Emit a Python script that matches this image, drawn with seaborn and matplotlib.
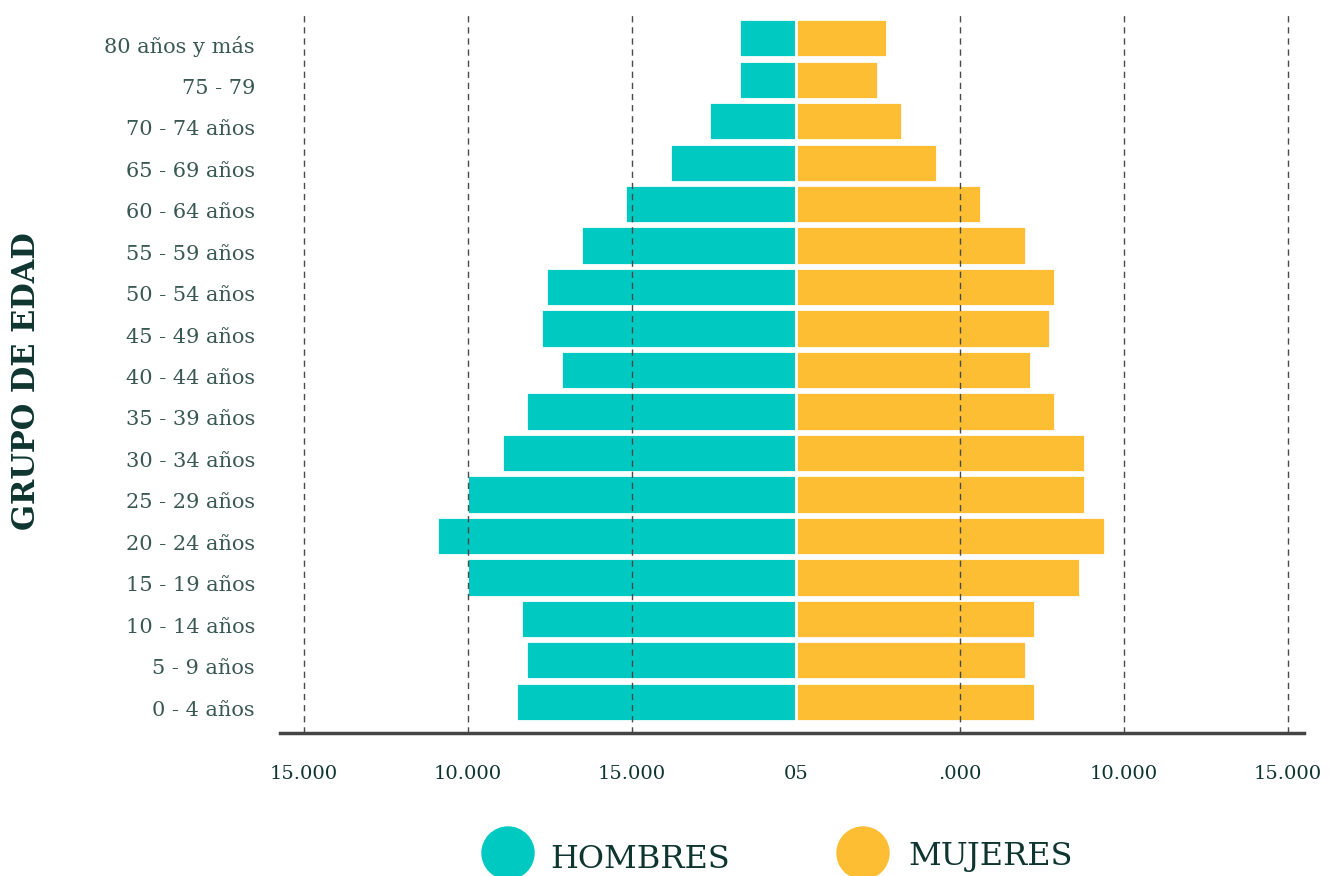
import matplotlib
matplotlib.use("Agg")
import matplotlib.pyplot as plt
import matplotlib.transforms as mtransforms
from matplotlib.patches import Ellipse
import seaborn as sns
import pandas as pd

# ---- data ----
grupos = ["80 años y más", "75 - 79", "70 - 74 años", "65 - 69 años", "60 - 64 años",
          "55 - 59 años", "50 - 54 años", "45 - 49 años", "40 - 44 años", "35 - 39 años",
          "30 - 34 años", "25 - 29 años", "20 - 24 años", "15 - 19 años", "10 - 14 años",
          "5 - 9 años", "0 - 4 años"]
hombres = [1740, 1740, 2650, 3840, 5210, 6550, 7620, 7770, 7160, 8230,
           8960, 10030, 10950, 10030, 8380, 8230, 8540]
mujeres = [2770, 2500, 3230, 4300, 5640, 7010, 7900, 7740, 7160, 7900,
           8810, 8810, 9420, 8660, 7290, 7010, 7290]
xticks = [-15000, -10000, -5000, 0, 5000, 10000, 15000]
xticklabels = ["15.000", "10.000", "15.000", "05", ".000", "10.000", "15.000"]
series_names = ["HOMBRES", "MUJERES"]

TEAL = "#00C9C1"
ORANGE = "#FDBE33"
TXT = "#3a5853"
DARK = "#0f3531"

df_h = pd.DataFrame({"grupo": grupos, "valor": [-v for v in hombres]})
df_m = pd.DataFrame({"grupo": grupos, "valor": mujeres})

sns.set_style("white")
plt.rcParams["font.family"] = ["DejaVu Serif", "DejaVu Sans"]

fig = plt.figure(figsize=(13.35, 8.76), dpi=100)
ax = fig.add_axes([280 / 1335, 1 - 733 / 876, (1304 - 280) / 1335, (733 - 12) / 876])

sns.barplot(data=df_h, x="valor", y="grupo", order=grupos, color=TEAL, orient="h",
            width=0.92, edgecolor="white", linewidth=2, saturation=1, ax=ax, zorder=3)
sns.barplot(data=df_m, x="valor", y="grupo", order=grupos, color=ORANGE, orient="h",
            width=0.92, edgecolor="white", linewidth=2, saturation=1, ax=ax, zorder=3)

ax.set_xlim(-15730, 15490)
ax.set_ylim(16.75, -0.63)

for t in xticks:
    if t != 0:
        ax.axvline(t, color="#4a4a4a", lw=1.0, ls=(0, (4.5, 3.5)), zorder=5)

ax.set_xticks(xticks)
ax.set_xticklabels(xticklabels, fontsize=14, color=DARK)
ax.tick_params(axis="x", length=0, pad=23)
ax.tick_params(axis="y", length=0, pad=18, labelsize=15, labelcolor=TXT)
ax.set_xlabel("")
ax.set_ylabel("")

offset = mtransforms.ScaledTranslation(0, -0.065, fig.dpi_scale_trans)
for lab in ax.get_yticklabels():
    lab.set_transform(lab.get_transform() + offset)

for s in ["top", "right", "left"]:
    ax.spines[s].set_visible(False)
ax.spines["bottom"].set_color("#444444")
ax.spines["bottom"].set_linewidth(2.5)
ax.spines["bottom"].set_zorder(6)

fig.text(27 / 1335, 1 - 381 / 876, "GRUPO DE EDAD", rotation=90, ha="center", va="center",
         fontsize=22, fontweight="bold", color=DARK)

# legend
for cx, col, tx, ty, name in [(508, TEAL, 550, 860, series_names[0]),
                              (863, ORANGE, 908, 856, series_names[1])]:
    fig.add_artist(Ellipse((cx / 1335, 1 - 853 / 876), 52 / 1335, 52 / 876,
                           transform=fig.transFigure, color=col))
    fig.text(tx / 1335, 1 - ty / 876, name, ha="left", va="center", fontsize=23, color=DARK)

fig.savefig("out.png", dpi=100)
